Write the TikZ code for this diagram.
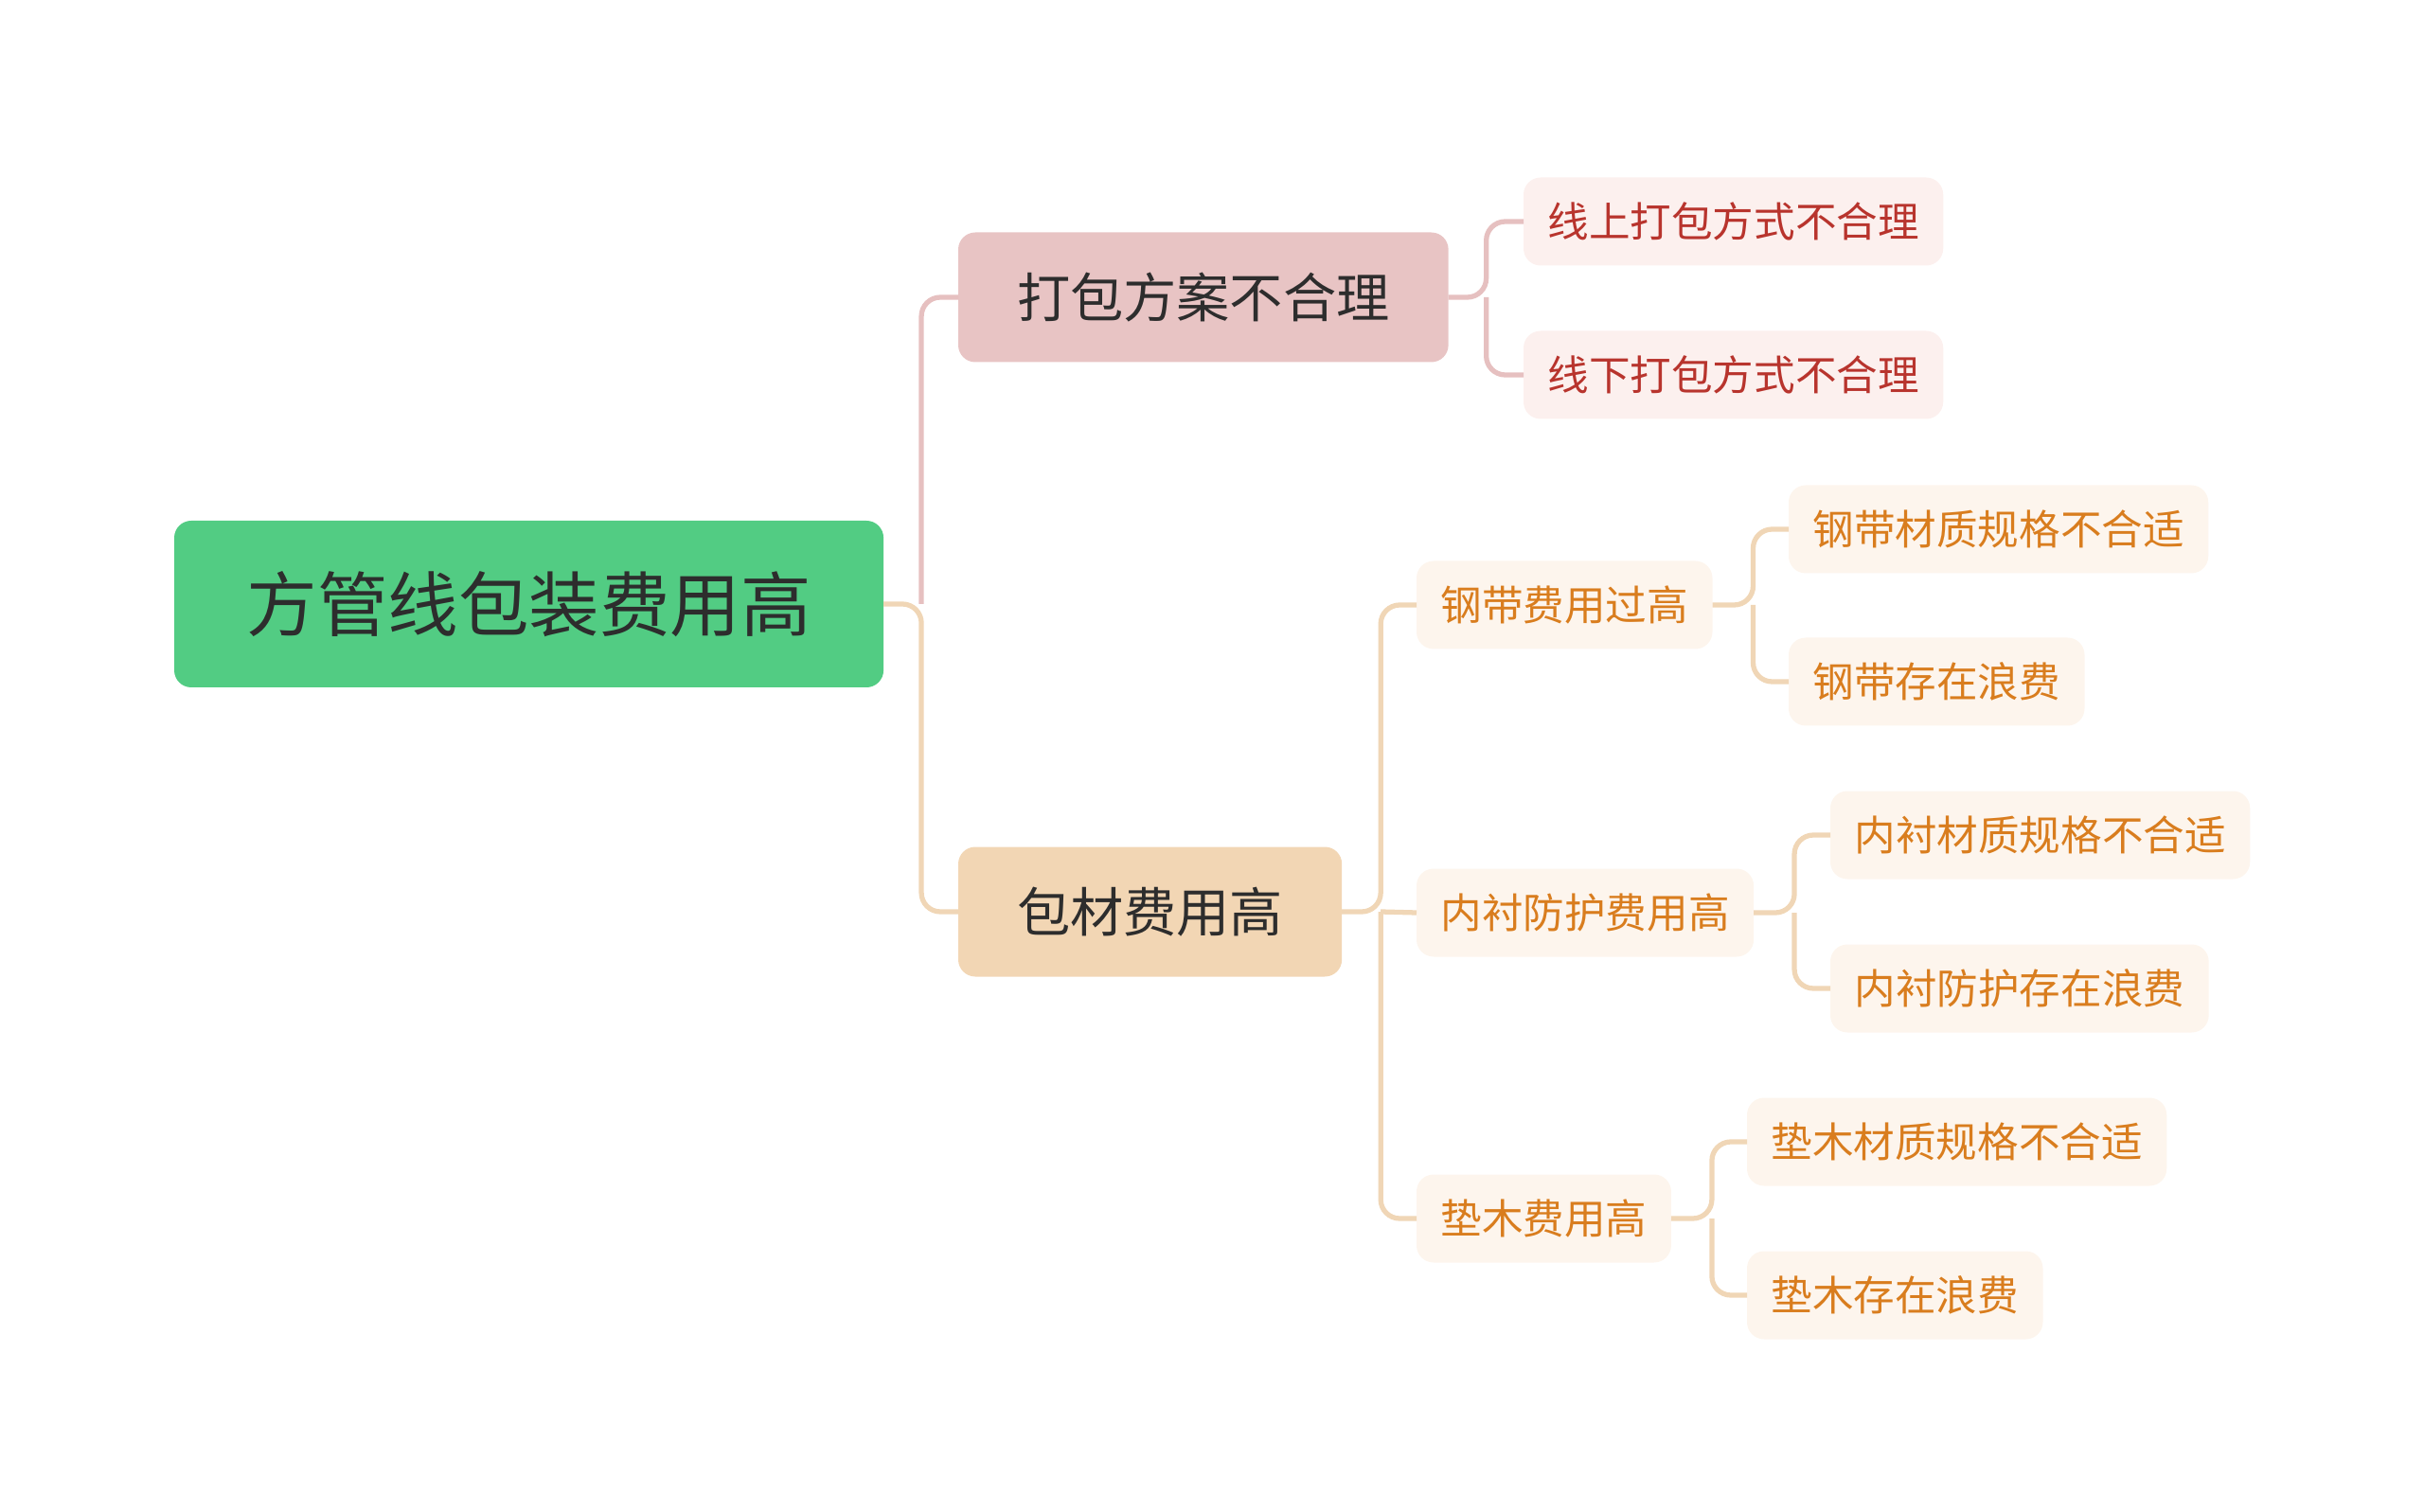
\documentclass[tikz,border=0pt]{standalone}
\usepackage{fontspec}
\setmainfont{Noto Sans CJK SC}
\usetikzlibrary{calc}

\definecolor{rootgreen}{RGB}{82,204,131}
\definecolor{darktext}{RGB}{45,45,45}
\definecolor{packpink}{RGB}{232,196,196}
\definecolor{costpeach}{RGB}{242,214,180}
\definecolor{lightpink}{RGB}{252,240,238}
\definecolor{lightpeach}{RGB}{253,245,237}
\definecolor{redtext}{RGB}{184,52,45}
\definecolor{orangetext}{RGB}{217,125,30}
\definecolor{pinkline}{RGB}{230,192,192}
\definecolor{peachline}{RGB}{240,214,182}

\tikzstyle{box} = [rounded corners=0.18cm, inner ysep=0pt, outer sep=0pt, anchor=west]
\tikzstyle{rootbox} = [box, fill=rootgreen, text=darktext, inner xsep=0.765cm, minimum height=1.76cm, font=\fontsize{21.2}{24}\selectfont]
\tikzstyle{mainbox} = [box, text=darktext, inner xsep=0.62cm, minimum height=1.37cm, font=\fontsize{16}{19}\selectfont]
\tikzstyle{subbox} = [box, inner xsep=0.255cm, minimum height=0.93cm, font=\fontsize{12.4}{15}\selectfont]
\tikzstyle{redbox} = [subbox, fill=lightpink, text=redtext]
\tikzstyle{orangebox} = [subbox, fill=lightpeach, text=orangetext]
\tikzstyle{link} = [line width=1.5pt, rounded corners=0.2cm]

\begin{document}
\begin{tikzpicture}

	\useasboundingbox (0,0) rectangle (25.6,-15.97);

	\node[rootbox] (root) at (1.84,-6.38) {方管线包装费用高};

	\node[mainbox, fill=packpink] (plan) at (10.12,-3.14) {打包方案不合理};
	\node[mainbox, fill=costpeach] (cost) at (10.12,-9.63) {包材费用高};

	\node[redbox] (online) at (16.09,-2.34) {线上打包方式不合理};
	\node[redbox] (offline) at (16.09,-3.96) {线下打包方式不合理};

	\node[orangebox] (steel) at (14.96,-6.39) {钢带费用过高};
	\node[orangebox] (lining) at (14.96,-9.64) {内衬防护费用高};
	\node[orangebox] (wood) at (14.96,-12.87) {垫木费用高};

	\node[orangebox] (steelspec) at (18.89,-5.59) {钢带材质规格不合适};
	\node[orangebox] (steelwaste) at (18.89,-7.20) {钢带存在浪费};
	\node[orangebox] (liningspec) at (19.33,-8.82) {内衬材质规格不合适};
	\node[orangebox] (liningwaste) at (19.33,-10.44) {内衬防护存在浪费};
	\node[orangebox] (woodspec) at (18.45,-12.06) {垫木材质规格不合适};
	\node[orangebox] (woodwaste) at (18.45,-13.68) {垫木存在浪费};

	% branches
	\draw[link, peachline] (root.east) -- ++(0.4,0) coordinate (rj) |- (cost.west);
	\draw[link, pinkline] (rj) |- (plan.west);

	\draw[link, pinkline] (plan.east) -- ++(0.4,0) coordinate (pj) |- (online.west);
	\draw[link, pinkline] (pj) |- (offline.west);

	\draw[link, peachline] (cost.east) -- ++(0.41,0) coordinate (cj) |- (steel.west);
	\draw[link, peachline] (cj) -- (lining.west);
	\draw[link, peachline] (cj) |- (wood.west);

	\foreach \parent/\first/\second in {steel/steelspec/steelwaste, lining/liningspec/liningwaste, wood/woodspec/woodwaste}
	{
		\draw[link, peachline] (\parent.east) -- ++(0.43,0) coordinate (j) |- (\first.west);
		\draw[link, peachline] (j) |- (\second.west);
	}

\end{tikzpicture}
\end{document}
